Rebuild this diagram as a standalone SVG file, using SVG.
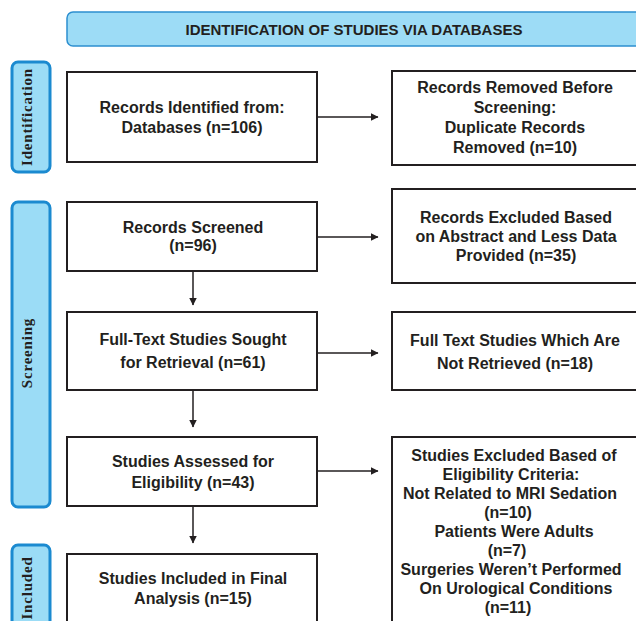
<svg xmlns="http://www.w3.org/2000/svg" width="636" height="621" viewBox="0 0 636 621">
<defs>
<marker id="ah" markerWidth="8" markerHeight="8" refX="7.5" refY="4" orient="auto" markerUnits="userSpaceOnUse">
<path d="M0,0 L8,4 L0,8 Z" fill="#231f20"/>
</marker>
<style>
.box{fill:#fff;stroke:#231f20;stroke-width:2}
.bar{fill:#9bdcf6;stroke:#1b8ad0;stroke-width:3}
.hdr{fill:#9ddcf6;stroke:#2c8fd0;stroke-width:1.5}
.t{font-family:"Liberation Sans",Arial,sans-serif;font-weight:bold;font-size:16px;fill:#231f20;text-anchor:middle}
.h{font-family:"Liberation Sans",Arial,sans-serif;font-weight:bold;font-size:15px;fill:#231f20;text-anchor:middle}
.s{font-family:"Liberation Serif","Times New Roman",serif;font-weight:bold;font-size:15px;letter-spacing:0.8px;fill:#231f20;text-anchor:middle}
.c{stroke:#231f20;stroke-width:1.5;fill:none;marker-end:url(#ah)}
</style>
</defs>
<rect width="636" height="621" fill="#fff"/>
<g id="header">
<rect class="hdr" x="67" y="12" width="600" height="34" rx="6"/>
<text class="h" x="354" y="34.5">IDENTIFICATION OF STUDIES VIA DATABASES</text>
</g>
<g id="bar-identification">
<rect class="bar" x="12" y="62" width="38" height="110" rx="6"/>
<text class="s" transform="translate(32,117) rotate(-90)">Identification</text>
</g>
<g id="bar-screening">
<rect class="bar" x="12" y="202" width="38" height="305" rx="6"/>
<text class="s" transform="translate(32,353) rotate(-90)">Screening</text>
</g>
<g id="bar-included">
<rect class="bar" x="12" y="545" width="38" height="100" rx="6"/>
<text class="s" transform="translate(32,588) rotate(-90)">Included</text>
</g>
<g id="connectors">
<line class="c" x1="317" y1="117" x2="378" y2="117"/>
<line class="c" x1="317" y1="237" x2="378" y2="237"/>
<line class="c" x1="317" y1="353" x2="378" y2="353"/>
<line class="c" x1="317" y1="471" x2="378" y2="471"/>
<line class="c" x1="193" y1="271" x2="193" y2="305"/>
<line class="c" x1="193" y1="390" x2="193" y2="427"/>
<line class="c" x1="193" y1="506" x2="193" y2="543"/>
</g>
<g id="n-identified">
<rect class="box" x="67" y="72" width="250" height="90"/>
<text class="t" x="192" y="113">Records Identified from:</text>
<text class="t" x="192" y="133">Databases (n=106)</text>
</g>
<g id="n-removed">
<rect class="box" x="392" y="71" width="250" height="94"/>
<text class="t" x="515" y="93">Records Removed Before</text>
<text class="t" x="515" y="113">Screening:</text>
<text class="t" x="515" y="133">Duplicate Records</text>
<text class="t" x="515" y="153">Removed (n=10)</text>
</g>
<g id="n-screened">
<rect class="box" x="67" y="202" width="250" height="69"/>
<text class="t" x="193" y="233">Records Screened</text>
<text class="t" x="193" y="251">(n=96)</text>
</g>
<g id="n-excluded-abstract">
<rect class="box" x="392" y="189" width="250" height="94"/>
<text class="t" x="516" y="223">Records Excluded Based</text>
<text class="t" x="516" y="242">on Abstract and Less Data</text>
<text class="t" x="516" y="261">Provided (n=35)</text>
</g>
<g id="n-sought">
<rect class="box" x="67" y="312" width="250" height="78"/>
<text class="t" x="193" y="345">Full-Text Studies Sought</text>
<text class="t" x="193" y="368">for Retrieval (n=61)</text>
</g>
<g id="n-not-retrieved">
<rect class="box" x="392" y="312" width="250" height="78"/>
<text class="t" x="515" y="346">Full Text Studies Which Are</text>
<text class="t" x="515" y="369">Not Retrieved (n=18)</text>
</g>
<g id="n-assessed">
<rect class="box" x="67" y="437" width="250" height="69"/>
<text class="t" x="193" y="467">Studies Assessed for</text>
<text class="t" x="193" y="488">Eligibility (n=43)</text>
</g>
<g id="n-excluded-eligibility">
<rect class="box" x="392" y="437" width="250" height="200"/>
<text class="t" x="514" y="461">Studies Excluded Based of</text>
<text class="t" x="511" y="480">Eligibility Criteria:</text>
<text class="t" x="510" y="499">Not Related to MRI Sedation</text>
<text class="t" x="508" y="518">(n=10)</text>
<text class="t" x="514" y="537">Patients Were Adults</text>
<text class="t" x="507" y="556">(n=7)</text>
<text class="t" x="511" y="575">Surgeries Weren’t Performed</text>
<text class="t" x="516" y="594">On Urological Conditions</text>
<text class="t" x="508" y="613">(n=11)</text>
</g>
<g id="n-included">
<rect class="box" x="67" y="554" width="250" height="80"/>
<text class="t" x="193" y="584">Studies Included in Final</text>
<text class="t" x="193" y="604">Analysis (n=15)</text>
</g>
</svg>
